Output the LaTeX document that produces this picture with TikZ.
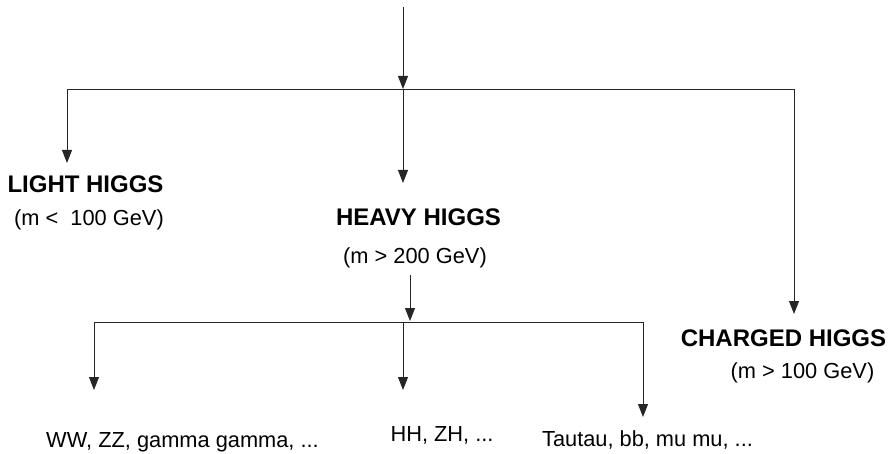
\documentclass[tikz,border=0pt]{standalone}
\usepackage{fontspec}
\setmainfont{Liberation Sans}
\usetikzlibrary{arrows.meta}
\begin{document}
\begin{tikzpicture}[x=1pt,y=-1pt,
  conn/.style={line width=0.9pt,draw=black!85},
  arr/.style={conn,-{Triangle[width=10pt,length=13pt]}},
  title/.style={inner sep=0pt,font=\fontsize{24}{28}\selectfont\bfseries},
  sub/.style={inner sep=0pt,font=\fontsize{21.8}{26}\selectfont}]
\useasboundingbox (0,0) rectangle (891,454);

% labels
\node[title] (light) at (85.5,184) {LIGHT HIGGS};
\node[sub] (lightm) at (89,220) {(m <\ \ 100 GeV)};
\node[title] (heavy) at (418.5,217) {HEAVY HIGGS};
\node[sub] (heavym) at (415,258) {(m > 200 GeV)};
\node[title] (charged) at (783.5,338) {CHARGED HIGGS};
\node[sub] (chargedm) at (802.5,373) {(m > 100 GeV)};
\node[sub] (ww) at (182.5,442) {WW, ZZ, gamma gamma, ...};
\node[sub] (hh) at (442,435) {HH, ZH, ...};
\node[sub] (tt) at (647.5,440) {Tautau, bb, mu mu, ...};

% upper tree
\coordinate (top) at (403,7);
\coordinate (j1) at (403,89);
\coordinate (jl) at (67,89);
\coordinate (jr) at (794,89);
\coordinate (tl) at (67,163);
\coordinate (tm) at (403,183);
\coordinate (tr) at (794,314);
\draw[arr] (top) -- (j1);
\draw[conn] (jl) -- (jr);
\draw[arr] (jl) -- (tl);
\draw[arr] (j1) -- (tm);
\draw[arr] (jr) -- (tr);

% lower tree
\coordinate (hs) at (410,275);
\coordinate (he) at (410,321);
\coordinate (kl) at (94,322);
\coordinate (km) at (403,322);
\coordinate (kr) at (643,322);
\coordinate (ul) at (94,390);
\coordinate (um) at (403,390);
\coordinate (ur) at (643,417);
\draw[arr] (hs) -- (he);
\draw[conn] (kl) -- (kr);
\draw[arr] (kl) -- (ul);
\draw[arr] (km) -- (um);
\draw[arr] (kr) -- (ur);
\end{tikzpicture}
\end{document}
